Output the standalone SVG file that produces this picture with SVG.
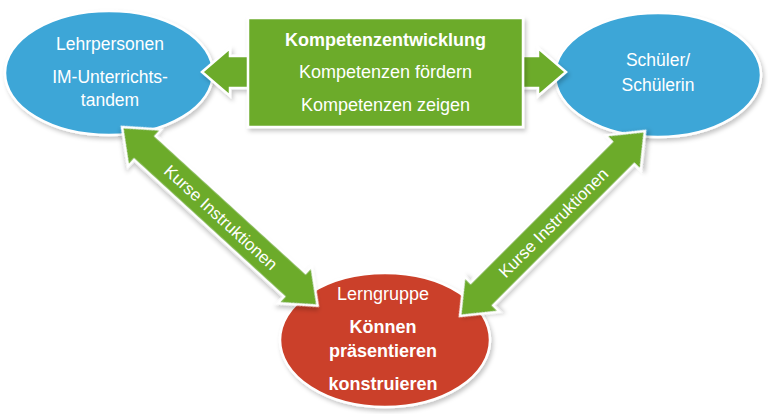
<svg xmlns="http://www.w3.org/2000/svg" width="768" height="414" viewBox="0 0 768 414">
<defs>
<filter id="sh" x="-20%" y="-20%" width="140%" height="140%">
<feDropShadow dx="2" dy="3" stdDeviation="2" flood-color="#000" flood-opacity="0.22"/>
</filter>
<style>
.blue{fill:#3ca6d7;stroke:#fff;stroke-width:2.5;filter:url(#sh)}
.red{fill:#cb412a;stroke:#fff;stroke-width:2.5;filter:url(#sh)}
.green{fill:#6cab2c;stroke:#fff;stroke-width:2.5;stroke-linejoin:miter;filter:url(#sh)}
.t{font-family:"Liberation Sans",Arial,sans-serif;fill:#fff;text-anchor:middle;font-size:17.5px}
.b{font-weight:bold;font-size:18px}
.m{font-size:18px}
.d{font-size:17px}
</style>
</defs>
<rect width="768" height="414" fill="#fff"/>
<g id="lehrpersonen">
<ellipse class="blue" cx="109" cy="73" rx="104" ry="62"/>
<text class="t" x="110" y="50">Lehrpersonen</text>
<text class="t" x="110" y="83">IM-Unterrichts-</text>
<text class="t" x="110" y="106">tandem</text>
</g>
<g id="schueler">
<ellipse class="blue" cx="658" cy="75" rx="103" ry="62"/>
<text class="t" x="658" y="66">Schüler/</text>
<text class="t" x="658" y="91">Schülerin</text>
</g>
<g id="lerngruppe">
<ellipse class="red" cx="385" cy="340" rx="105" ry="67"/>
<text class="t m" x="383" y="300">Lerngruppe</text>
<text class="t b" x="383" y="333">Können</text>
<text class="t b" x="383" y="357">präsentieren</text>
<text class="t b" x="383" y="390">konstruieren</text>
</g>
<g id="connectors">
<polygon class="green" points="202,72 230,48 230,56 538,56 538,48 566,72 538,96 538,88 230,88 230,96"/>
<g transform="translate(122,127) rotate(42.4)">
<polygon class="green" points="0,0 31,-25 31,-16 234,-16 234,-25 265,0 234,25 234,16 31,16 31,25"/>
<text class="t d" x="134" y="6">Kurse Instruktionen</text>
</g>
<g transform="translate(460,316) rotate(-45)">
<polygon class="green" points="0,0 31,-25 31,-16 230.6,-16 230.6,-25 261.6,0 230.6,25 230.6,16 31,16 31,25"/>
<text class="t d" x="132" y="6">Kurse Instruktionen</text>
</g>
</g>
<g id="kompetenzentwicklung">
<rect class="green" x="248" y="18" width="275" height="109"/>
<text class="t b" x="385.5" y="46">Kompetenzentwicklung</text>
<text class="t m" x="385.5" y="78">Kompetenzen fördern</text>
<text class="t m" x="385.5" y="111">Kompetenzen zeigen</text>
</g>
</svg>
